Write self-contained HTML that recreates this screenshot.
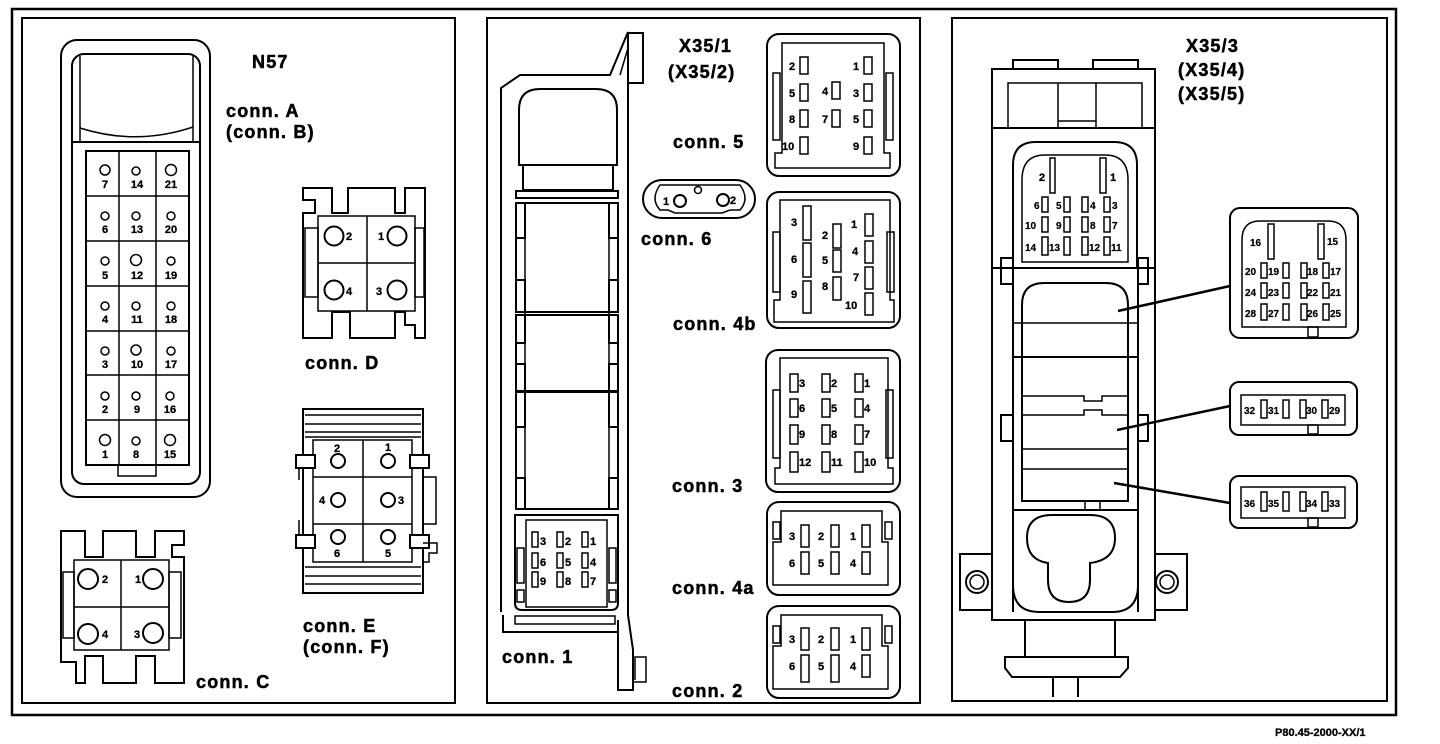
<!DOCTYPE html>
<html><head><meta charset="utf-8"><style>
html,body{margin:0;padding:0;background:#fff;}
svg{display:block;}
text{font-family:"Liberation Sans",Arial,sans-serif;font-weight:bold;fill:#000;}
.L{font-size:18px;letter-spacing:1.2px;stroke:#000;stroke-width:0.5px;}
.p{font-size:11px;stroke:#000;stroke-width:0.3px;}
.s{font-size:10px;stroke:#000;stroke-width:0.2px;}
</style></head><body>
<svg width="1440" height="744" viewBox="0 0 1440 744" xmlns="http://www.w3.org/2000/svg">
<g fill="none" stroke="#000" stroke-width="2">
<rect x="12" y="9" width="1384" height="706" stroke-width="2.5"/>
<rect x="22" y="18" width="433" height="685"/>
<rect x="487" y="18" width="433" height="685"/>
<rect x="952" y="18" width="435" height="683"/>

<rect x="61" y="40" width="149" height="457" rx="16"/>
<rect x="72" y="54" width="128" height="430" rx="12"/>
<line x1="80" y1="56" x2="80" y2="142" stroke-width="1.5"/>
<line x1="193" y1="56" x2="193" y2="142" stroke-width="1.5"/>
<path d="M80 128 Q136 146 193 127" stroke-width="1.5"/>
<line x1="72" y1="142" x2="200" y2="142"/>
<rect x="86" y="151" width="103" height="314"/>
<line x1="119" y1="151" x2="119" y2="465" stroke-width="1.5"/>
<line x1="156" y1="151" x2="156" y2="465" stroke-width="1.5"/>
<g stroke-width="1.5">
<line x1="86" y1="196" x2="189" y2="196"/><line x1="86" y1="241" x2="189" y2="241"/>
<line x1="86" y1="286" x2="189" y2="286"/><line x1="86" y1="331" x2="189" y2="331"/>
<line x1="86" y1="375" x2="189" y2="375"/><line x1="86" y1="420" x2="189" y2="420"/>
</g>
<rect x="118" y="465" width="38" height="11" stroke-width="1.5"/>
<g stroke-width="1.5">
<circle cx="105" cy="170" r="5"/><circle cx="136" cy="171" r="4"/><circle cx="171" cy="170" r="5.5"/>
<circle cx="105" cy="216" r="4"/><circle cx="136" cy="216" r="4"/><circle cx="171" cy="216" r="4"/>
<circle cx="105" cy="261" r="4"/><circle cx="136" cy="260" r="5.5"/><circle cx="171" cy="261" r="4"/>
<circle cx="105" cy="306" r="4"/><circle cx="136" cy="306" r="4"/><circle cx="171" cy="306" r="4"/>
<circle cx="105" cy="351" r="4"/><circle cx="136" cy="350" r="5"/><circle cx="171" cy="351" r="4"/>
<circle cx="105" cy="396" r="4"/><circle cx="136" cy="396" r="4"/><circle cx="170" cy="396" r="4"/>
<circle cx="105" cy="440" r="5.5"/><circle cx="136" cy="441" r="4"/><circle cx="170" cy="440" r="5.5"/>
</g>

<path d="M303 188 H332 V213 H348 V188 H395 V213 H405 V188 H425 V338 H415 V325 H405 V312 H395 V338 H350 V312 H332 V338 H303 V213 H315 V200 H303 Z"/>
<rect x="318" y="216" width="97" height="95" stroke-width="1.5"/>
<line x1="367" y1="216" x2="367" y2="311" stroke-width="1.5"/>
<line x1="318" y1="263" x2="415" y2="263" stroke-width="1.5"/>
<rect x="305" y="228" width="13" height="69" stroke-width="1.5"/>
<rect x="415" y="228" width="9" height="69" stroke-width="1.5"/>
<circle cx="334" cy="236" r="9.5"/><circle cx="397" cy="236" r="9.5"/>
<circle cx="334" cy="290" r="9.5"/><circle cx="397" cy="290" r="9.5"/>

<path d="M61 531 H85 V557 H103 V531 H136 V557 H155 V531 H184 V545 H172 V557 H184 V683 H155 V656 H136 V683 H103 V656 H85 V683 H76 V662 H61 Z"/>
<rect x="74" y="560" width="95" height="90" stroke-width="1.5"/>
<line x1="121" y1="560" x2="121" y2="650" stroke-width="1.5"/>
<line x1="74" y1="607" x2="169" y2="607" stroke-width="1.5"/>
<rect x="63" y="572" width="11" height="66" stroke-width="1.5"/>
<rect x="169" y="572" width="12" height="66" stroke-width="1.5"/>
<circle cx="88" cy="579" r="10"/><circle cx="153" cy="579" r="10"/>
<circle cx="88" cy="634" r="10"/><circle cx="153" cy="633" r="10"/>

<rect x="303" y="409" width="120" height="184"/>
<g stroke-width="1.5">
<line x1="305" y1="415" x2="421" y2="415"/><line x1="305" y1="424" x2="421" y2="424"/>
<line x1="305" y1="432" x2="421" y2="432"/><line x1="305" y1="437" x2="421" y2="437"/>
<line x1="305" y1="567" x2="421" y2="567"/><line x1="305" y1="576" x2="421" y2="576"/>
<line x1="305" y1="584" x2="421" y2="584"/>
</g>
<rect x="313" y="440" width="99" height="122" stroke-width="1.5"/>
<line x1="363" y1="440" x2="363" y2="562" stroke-width="1.5"/>
<line x1="313" y1="477" x2="412" y2="477" stroke-width="1.5"/>
<line x1="313" y1="524" x2="412" y2="524" stroke-width="1.5"/>
<rect x="296" y="455" width="19" height="13" fill="#fff"/>
<rect x="296" y="535" width="19" height="13" fill="#fff"/>
<rect x="410" y="455" width="19" height="13" fill="#fff"/>
<rect x="410" y="535" width="19" height="13" fill="#fff"/>
<line x1="299" y1="468" x2="299" y2="480" stroke-width="1.5"/>
<line x1="299" y1="520" x2="299" y2="535" stroke-width="1.5"/>
<path d="M423 477 H436 V524 H423" stroke-width="1.5"/>
<path d="M423 543 H437 V553 H429 V562 H423" stroke-width="1.5"/>
<circle cx="338" cy="461" r="7"/><circle cx="388" cy="461" r="7"/>
<circle cx="338" cy="500" r="7"/><circle cx="388" cy="500" r="7"/>
<circle cx="338" cy="537" r="7"/><circle cx="388" cy="537" r="7"/>

<path d="M501 612 V88 L520 75 H610 L628 32 V615 L633 650 V690 H618 V620"/>
<path d="M620 75 L628 48" stroke-width="1.5"/>
<rect x="628" y="33" width="15" height="50"/>
<path d="M519 165 V110 Q519 89 540 89 H596 Q617 89 617 110 V165 Z"/>
<rect x="523" y="165" width="90" height="25"/>
<rect x="516" y="191" width="102" height="7"/>
<rect x="516" y="203" width="102" height="109"/>
<rect x="516" y="315" width="102" height="76"/>
<rect x="516" y="392" width="102" height="117"/>
<g stroke-width="1.5">
<line x1="525" y1="203" x2="525" y2="509"/><line x1="609" y1="203" x2="609" y2="509"/>
</g>
<g fill="#fff">
<rect x="516" y="203" width="9" height="35"/><rect x="609" y="203" width="9" height="35"/>
<rect x="516" y="280" width="9" height="32"/><rect x="609" y="280" width="9" height="32"/>
<rect x="516" y="315" width="9" height="28"/><rect x="609" y="315" width="9" height="28"/>
<rect x="516" y="364" width="9" height="27"/><rect x="609" y="364" width="9" height="27"/>
<rect x="516" y="392" width="9" height="35"/><rect x="609" y="392" width="9" height="35"/>
<rect x="516" y="478" width="9" height="31"/><rect x="609" y="478" width="9" height="31"/>
</g>
<path d="M515 515 H618 V603 Q618 610 611 610 H522 Q515 610 515 603 Z"/>
<rect x="526" y="520" width="81" height="87" stroke-width="1.5"/>
<rect x="517" y="548" width="7" height="35" stroke-width="1.5"/>
<rect x="609" y="548" width="7" height="35" stroke-width="1.5"/>
<rect x="517" y="590" width="7" height="12" stroke-width="1.5"/>
<rect x="609" y="590" width="7" height="12" stroke-width="1.5"/>
<g stroke-width="1.5">
<rect x="532" y="532" width="6" height="15"/><rect x="557" y="532" width="6" height="15"/><rect x="582" y="532" width="6" height="15"/>
<rect x="532" y="553" width="6" height="15"/><rect x="557" y="553" width="6" height="15"/><rect x="582" y="553" width="6" height="15"/>
<rect x="532" y="572" width="6" height="15"/><rect x="557" y="572" width="6" height="15"/><rect x="582" y="572" width="6" height="15"/>
</g>
<path d="M503 615 V632 H617"/>
<rect x="515" y="616" width="100" height="8" stroke-width="1.5"/>
<path d="M635 680 V657 H646 V682 H633" stroke-width="1.5"/>

<rect x="767" y="34" width="133" height="142" rx="12"/>
<path d="M782 43 H884 V153 H890 V168 H775 V153 H782 Z" stroke-width="1.5"/>
<rect x="773" y="73" width="7" height="67" stroke-width="1.5"/>
<rect x="886" y="73" width="7" height="67" stroke-width="1.5"/>
<g stroke-width="1.5">
<rect x="800" y="57" width="8" height="17"/><rect x="864" y="57" width="8" height="17"/>
<rect x="800" y="84" width="8" height="17"/><rect x="832" y="82" width="8" height="17"/><rect x="864" y="84" width="8" height="17"/>
<rect x="800" y="110" width="8" height="17"/><rect x="832" y="110" width="8" height="17"/><rect x="864" y="110" width="8" height="17"/>
<rect x="800" y="137" width="8" height="17"/><rect x="864" y="137" width="8" height="17"/>
</g>
<rect x="643" y="180" width="112" height="38" rx="19"/>
<path d="M660 185 H740 Q750 199 740 210 H730 L722 213 H675 L668 210 H660 Q650 199 660 185 Z" stroke-width="1.5"/>
<circle cx="680" cy="201" r="6"/><circle cx="723" cy="200" r="6"/><circle cx="698" cy="190" r="3.5" stroke-width="1.5"/>
<rect x="767" y="192" width="133" height="136" rx="12"/>
<path d="M780 200 H890 V300 H894 V322 H774 V300 H780 Z" stroke-width="1.5"/>
<rect x="773" y="232" width="7" height="60" stroke-width="1.5"/>
<rect x="887" y="232" width="7" height="60" stroke-width="1.5"/>
<g stroke-width="1.5">
<rect x="803" y="206" width="8" height="34"/><rect x="803" y="243" width="8" height="34"/><rect x="803" y="281" width="8" height="32"/>
<rect x="833" y="224" width="8" height="24"/><rect x="833" y="250" width="8" height="22"/><rect x="833" y="277" width="8" height="23"/>
<rect x="865" y="214" width="8" height="22"/><rect x="865" y="241" width="8" height="22"/><rect x="865" y="267" width="8" height="22"/><rect x="865" y="293" width="8" height="22"/>
</g>
<rect x="766" y="350" width="134" height="142" rx="12"/>
<path d="M780 358 H888 V468 H893 V484 H775 V468 H780 Z" stroke-width="1.5"/>
<rect x="773" y="390" width="7" height="68" stroke-width="1.5"/>
<rect x="886" y="390" width="7" height="68" stroke-width="1.5"/>
<g stroke-width="1.5">
<rect x="790" y="374" width="8" height="18"/><rect x="822" y="374" width="8" height="18"/><rect x="855" y="374" width="8" height="18"/>
<rect x="790" y="399" width="8" height="18"/><rect x="822" y="399" width="8" height="18"/><rect x="855" y="399" width="8" height="18"/>
<rect x="790" y="425" width="8" height="19"/><rect x="822" y="425" width="8" height="19"/><rect x="855" y="425" width="8" height="19"/>
<rect x="790" y="452" width="8" height="20"/><rect x="822" y="452" width="8" height="20"/><rect x="855" y="452" width="8" height="20"/>
</g>
<rect x="767" y="502" width="133" height="93" rx="12"/>
<path d="M781 511 H882 V542 H888 V585 H773 V542 H781 Z" stroke-width="1.5"/>
<rect x="773" y="522" width="7" height="17" stroke-width="1.5"/>
<rect x="885" y="522" width="7" height="17" stroke-width="1.5"/>
<g stroke-width="1.5">
<rect x="801" y="525" width="8" height="22"/><rect x="831" y="525" width="8" height="22"/><rect x="862" y="525" width="8" height="22"/>
<rect x="801" y="552" width="8" height="22"/><rect x="831" y="552" width="8" height="22"/><rect x="862" y="552" width="8" height="22"/>
</g>
<rect x="767" y="606" width="133" height="92" rx="12"/>
<path d="M781 615 H882 V646 H888 V689 H773 V646 H781 Z" stroke-width="1.5"/>
<rect x="773" y="626" width="7" height="17" stroke-width="1.5"/>
<rect x="885" y="626" width="7" height="17" stroke-width="1.5"/>
<g stroke-width="1.5">
<rect x="801" y="628" width="8" height="22"/><rect x="831" y="628" width="8" height="22"/><rect x="862" y="628" width="8" height="22"/>
<rect x="801" y="655" width="8" height="27"/><rect x="831" y="655" width="8" height="27"/><rect x="862" y="655" width="8" height="22"/>
</g>

<rect x="1013" y="60" width="45" height="9"/>
<rect x="1093" y="60" width="45" height="9"/>
<rect x="992" y="69" width="163" height="551"/>
<rect x="1008" y="83" width="134" height="45" stroke-width="1.5"/>
<line x1="1058" y1="83" x2="1058" y2="128" stroke-width="1.5"/>
<line x1="1096" y1="83" x2="1096" y2="128" stroke-width="1.5"/>
<line x1="1058" y1="121" x2="1096" y2="121" stroke-width="1.5"/>
<line x1="992" y1="128" x2="1155" y2="128"/>
<path d="M1013 268 V165 Q1013 142 1036 142 H1114 Q1137 142 1137 165 V268"/>
<path d="M1022 262 V180 Q1022 155 1045 155 H1105 Q1128 155 1128 180 V262 Z" stroke-width="1.5"/>
<g stroke-width="1.5">
<rect x="1050" y="158" width="5" height="35"/><rect x="1100" y="158" width="6" height="35"/>
<rect x="1042" y="197" width="6" height="15"/><rect x="1064" y="197" width="6" height="15"/><rect x="1082" y="197" width="6" height="15"/><rect x="1104" y="197" width="6" height="15"/>
<rect x="1042" y="217" width="6" height="15"/><rect x="1064" y="217" width="6" height="15"/><rect x="1082" y="217" width="6" height="15"/><rect x="1104" y="217" width="6" height="15"/>
<rect x="1042" y="237" width="6" height="18"/><rect x="1064" y="237" width="6" height="18"/><rect x="1082" y="237" width="6" height="18"/><rect x="1104" y="237" width="6" height="18"/>
</g>
<line x1="992" y1="268" x2="1155" y2="268"/>
<rect x="1001" y="258" width="12" height="26"/>
<rect x="1138" y="258" width="10" height="26"/>
<line x1="1013" y1="268" x2="1013" y2="612"/>
<line x1="1138" y1="268" x2="1138" y2="612"/>
<path d="M1022 501 V305 Q1022 283 1044 283 H1106 Q1128 283 1128 305 V501 Z"/>
<line x1="1013" y1="323" x2="1138" y2="323" stroke-width="1.5"/>
<line x1="1013" y1="357" x2="1138" y2="357"/>
<path d="M1022 396 H1084 V401 H1102 V396 H1128" stroke-width="1.5"/>
<path d="M1022 415 H1084 V410 H1102 V415 H1128" stroke-width="1.5"/>
<line x1="1022" y1="449" x2="1128" y2="449" stroke-width="1.5"/>
<line x1="1022" y1="469" x2="1128" y2="469" stroke-width="1.5"/>
<path d="M1085 501 V510 M1100 501 V510" stroke-width="1.5"/>
<rect x="1001" y="415" width="12" height="26"/>
<rect x="1138" y="415" width="10" height="26"/>
<path d="M1013 510 H1138 V585 Q1138 612 1112 612 H1039 Q1013 612 1013 585 Z"/>
<path d="M1048 563 Q1027 560 1027 538 Q1027 515 1052 515 H1090 Q1115 515 1115 538 Q1115 560 1090 563 V580 Q1090 602 1069 602 Q1048 602 1048 580 Z"/>
<rect x="960" y="554" width="32" height="56"/>
<circle cx="977" cy="582" r="11"/><circle cx="977" cy="582" r="7" stroke-width="1.5"/>
<rect x="1155" y="554" width="32" height="56"/>
<circle cx="1167" cy="582" r="11"/><circle cx="1167" cy="582" r="7" stroke-width="1.5"/>
<rect x="1025" y="620" width="90" height="37"/>
<path d="M1005 657 H1128 V668 L1120 677 H1012 L1005 668 Z"/>
<line x1="1053" y1="677" x2="1053" y2="697"/><line x1="1078" y1="677" x2="1078" y2="697"/>
<path d="M1118 311 L1230 286" stroke-width="2.5"/>
<path d="M1117 430 L1230 406" stroke-width="2.5"/>
<path d="M1114 483 L1230 503" stroke-width="2.5"/>
<rect x="1230" y="208" width="128" height="130" rx="10"/>
<path d="M1242 327 V240 Q1242 221 1260 221 H1328 Q1346 221 1346 240 V327 Z" stroke-width="1.5"/>
<rect x="1308" y="327" width="10" height="10" stroke-width="1.5"/>
<g stroke-width="1.5">
<rect x="1268" y="224" width="6" height="35"/><rect x="1318" y="224" width="6" height="35"/>
<rect x="1261" y="263" width="6" height="15"/><rect x="1283" y="263" width="6" height="15"/><rect x="1301" y="263" width="6" height="15"/><rect x="1323" y="263" width="6" height="15"/>
<rect x="1261" y="283" width="6" height="15"/><rect x="1283" y="283" width="6" height="15"/><rect x="1301" y="283" width="6" height="15"/><rect x="1323" y="283" width="6" height="15"/>
<rect x="1261" y="304" width="6" height="16"/><rect x="1283" y="304" width="6" height="16"/><rect x="1301" y="304" width="6" height="16"/><rect x="1323" y="304" width="6" height="16"/>
</g>
<rect x="1230" y="382" width="127" height="53" rx="9"/>
<rect x="1241" y="395" width="104" height="30" stroke-width="1.5"/>
<rect x="1308" y="425" width="10" height="9" stroke-width="1.5"/>
<g stroke-width="1.5">
<rect x="1261" y="400" width="6" height="18"/><rect x="1283" y="400" width="6" height="18"/><rect x="1300" y="400" width="6" height="18"/><rect x="1322" y="400" width="6" height="18"/>
</g>
<rect x="1230" y="476" width="127" height="52" rx="9"/>
<rect x="1241" y="487" width="104" height="31" stroke-width="1.5"/>
<rect x="1308" y="518" width="10" height="9" stroke-width="1.5"/>
<g stroke-width="1.5">
<rect x="1261" y="492" width="6" height="19"/><rect x="1283" y="492" width="6" height="19"/><rect x="1300" y="492" width="6" height="19"/><rect x="1322" y="492" width="6" height="19"/>
</g>
</g>

<g class="L">
<text x="252" y="68">N57</text>
<text x="226" y="117">conn. A</text>
<text x="226" y="138">(conn. B)</text>
<text x="305" y="369">conn. D</text>
<text x="196" y="688">conn. C</text>
<text x="303" y="632">conn. E</text>
<text x="303" y="653">(conn. F)</text>
<text x="679" y="52">X35/1</text>
<text x="668" y="78">(X35/2)</text>
<text x="673" y="148">conn. 5</text>
<text x="641" y="245">conn. 6</text>
<text x="673" y="330">conn. 4b</text>
<text x="672" y="492">conn. 3</text>
<text x="672" y="594">conn. 4a</text>
<text x="672" y="697">conn. 2</text>
<text x="502" y="663">conn. 1</text>
<text x="1186" y="52">X35/3</text>
<text x="1178" y="76">(X35/4)</text>
<text x="1178" y="100">(X35/5)</text>
</g>
<text x="1275" y="736" style="font-size:11px;stroke:#000;stroke-width:0.3px">P80.45-2000-XX/1</text>

<g class="p" text-anchor="middle">
<text x="105" y="188">7</text><text x="137" y="188">14</text><text x="171" y="188">21</text>
<text x="105" y="233">6</text><text x="137" y="233">13</text><text x="171" y="233">20</text>
<text x="105" y="279">5</text><text x="137" y="279">12</text><text x="171" y="279">19</text>
<text x="105" y="323">4</text><text x="137" y="323">11</text><text x="171" y="323">18</text>
<text x="105" y="368">3</text><text x="137" y="368">10</text><text x="171" y="368">17</text>
<text x="105" y="413">2</text><text x="137" y="413">9</text><text x="170" y="413">16</text>
<text x="105" y="458">1</text><text x="136" y="458">8</text><text x="170" y="458">15</text>
</g>
<g class="p">
<text x="346" y="240">2</text><text x="378" y="240">1</text>
<text x="346" y="295">4</text><text x="376" y="295">3</text>
<text x="102" y="583">2</text><text x="135" y="583">1</text>
<text x="102" y="638">4</text><text x="134" y="638">3</text>
<text x="334" y="452">2</text><text x="385" y="451">1</text>
<text x="319" y="504">4</text><text x="398" y="504">3</text>
<text x="334" y="557">6</text><text x="385" y="557">5</text>
<text x="540" y="545">3</text><text x="565" y="545">2</text><text x="590" y="545">1</text>
<text x="540" y="566">6</text><text x="565" y="566">5</text><text x="590" y="566">4</text>
<text x="540" y="585">9</text><text x="565" y="585">8</text><text x="590" y="585">7</text>
<text x="789" y="70">2</text><text x="853" y="70">1</text>
<text x="789" y="97">5</text><text x="822" y="95">4</text><text x="853" y="97">3</text>
<text x="789" y="123">8</text><text x="822" y="123">7</text><text x="853" y="123">5</text>
<text x="782" y="150">10</text><text x="853" y="150">9</text>
<text x="663" y="205">1</text><text x="730" y="204">2</text>
<text x="791" y="226">3</text><text x="822" y="239">2</text><text x="851" y="228">1</text>
<text x="791" y="263">6</text><text x="822" y="264">5</text><text x="852" y="255">4</text>
<text x="791" y="298">9</text><text x="822" y="290">8</text><text x="853" y="281">7</text>
<text x="845" y="309">10</text>
<text x="799" y="387">3</text><text x="831" y="387">2</text><text x="864" y="387">1</text>
<text x="799" y="412">6</text><text x="831" y="412">5</text><text x="864" y="412">4</text>
<text x="799" y="438">9</text><text x="831" y="438">8</text><text x="864" y="438">7</text>
<text x="799" y="466">12</text><text x="831" y="466">11</text><text x="864" y="466">10</text>
<text x="789" y="540">3</text><text x="818" y="540">2</text><text x="850" y="540">1</text>
<text x="789" y="567">6</text><text x="818" y="567">5</text><text x="850" y="567">4</text>
<text x="789" y="643">3</text><text x="818" y="643">2</text><text x="850" y="643">1</text>
<text x="789" y="670">6</text><text x="818" y="670">5</text><text x="850" y="670">4</text>
<text x="1039" y="181">2</text><text x="1110" y="181">1</text>
</g>
<g class="s">
<text x="1034" y="209">6</text><text x="1056" y="209">5</text><text x="1090" y="209">4</text><text x="1112" y="209">3</text>
<text x="1025" y="229">10</text><text x="1056" y="229">9</text><text x="1090" y="229">8</text><text x="1112" y="229">7</text>
<text x="1025" y="251">14</text><text x="1049" y="251">13</text><text x="1089" y="251">12</text><text x="1111" y="251">11</text>
<text x="1250" y="246">16</text><text x="1327" y="245">15</text>
<text x="1245" y="275">20</text><text x="1268" y="275">19</text><text x="1307" y="275">18</text><text x="1330" y="275">17</text>
<text x="1245" y="296">24</text><text x="1268" y="296">23</text><text x="1307" y="296">22</text><text x="1330" y="296">21</text>
<text x="1245" y="317">28</text><text x="1268" y="317">27</text><text x="1307" y="317">26</text><text x="1330" y="317">25</text>
<text x="1244" y="414">32</text><text x="1268" y="414">31</text><text x="1306" y="414">30</text><text x="1329" y="414">29</text>
<text x="1244" y="507">36</text><text x="1268" y="507">35</text><text x="1306" y="507">34</text><text x="1329" y="507">33</text>
</g>
</svg>
</body></html>
